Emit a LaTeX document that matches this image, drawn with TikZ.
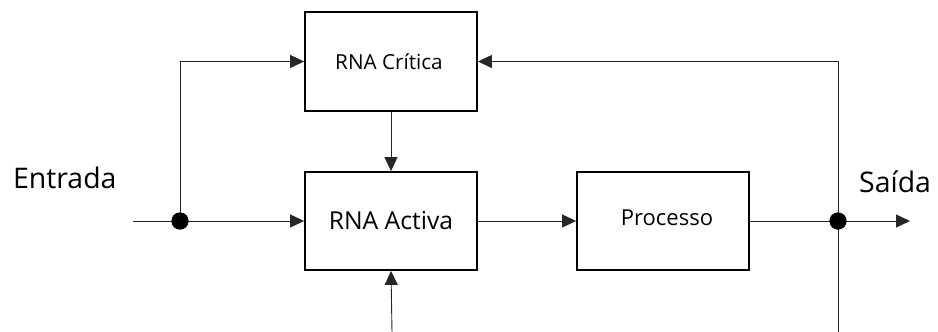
\documentclass[tikz,border=0pt]{standalone}
\usepackage{fontspec}
\setmainfont{Open Sans}
\usetikzlibrary{arrows.meta}
\tikzset{
  blockbox/.style={draw=black, line width=1.8pt, minimum width=172pt, minimum height=98pt, inner sep=0pt},
  conn/.style={draw=black!85, line width=0.9pt},
  arr/.style={conn, -{Triangle[length=14pt, width=13pt]}},
  junc/.style={circle, fill=black, minimum size=17pt, inner sep=0pt},
  biglabel/.style={font=\fontsize{28.4}{32}\selectfont, inner sep=0pt, anchor=base west}
}
\begin{document}
\begin{tikzpicture}[x=1pt, y=-1pt]
\useasboundingbox (0,0) rectangle (938,332);
\node[blockbox, minimum height=99pt] (crit) at (391,61.5) {};
\node[inner sep=0pt, font=\fontsize{20.7}{24}\selectfont] (critlbl) at (389,62) {RNA Crítica};
\node[blockbox] (act) at (391,221) {};
\node[inner sep=0pt, font=\fontsize{24.7}{28}\selectfont] (actlbl) at (391,221) {RNA Activa};
\node[blockbox] (proc) at (663,221) {};
\node[inner sep=0pt, font=\fontsize{22}{26}\selectfont] (proclbl) at (667,218) {Processo};
\node[biglabel] (entrada) at (13,188) {Entrada};
\node[biglabel] (saida) at (859,192) {Saída};
\coordinate (in) at (133,221);
\coordinate (out) at (910,221);
\coordinate (b1) at (392,332);
\coordinate (b2) at (838,332);
\node[junc] (j1) at (180,221) {};
\node[junc] (j2) at (838,221) {};
\draw[conn] (in) -- (j1.center);
\draw[arr] (j1.center) -- (act.west);
\draw[arr] (j1.center) |- (crit.west);
\draw[arr] (crit.south) -- (act.north);
\draw[arr] (b1) -- (act.south);
\draw[arr] (act.east) -- (proc.west);
\draw[conn] (proc.east) -- (j2.center);
\draw[arr] (j2.center) -- (out);
\draw[arr] (j2.center) |- (crit.east);
\draw[conn] (j2.center) -- (b2);
\node[junc] at (j1) {};
\node[junc] at (j2) {};
\end{tikzpicture}
\end{document}
